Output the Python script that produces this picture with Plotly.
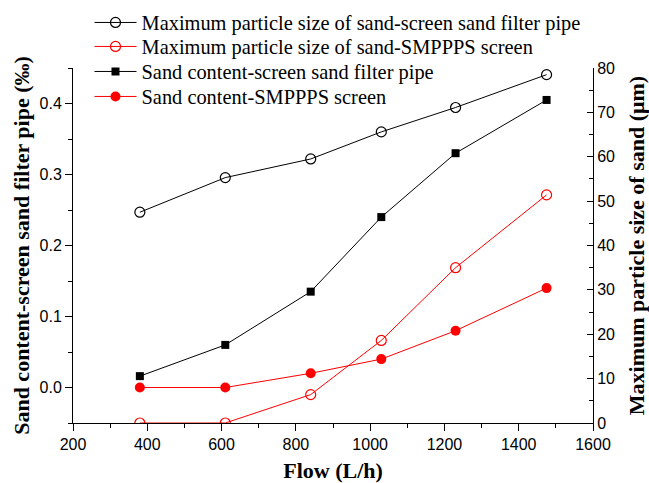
import plotly.graph_objects as go

flow = [380, 610, 840, 1030, 1230, 1475]
max_size_sand_screen = [47.5, 55.3, 59.5, 65.6, 71.1, 78.5]
max_size_smppps = [0, 0, 6.4, 18.6, 35.0, 51.4]
sand_content_screen = [0.016, 0.06, 0.135, 0.24, 0.33, 0.405]
sand_content_smppps = [0.0, 0.0, 0.02, 0.04, 0.08, 0.14]

names = [
    "Maximum particle size of sand-screen sand filter pipe",
    "Maximum particle size of sand-SMPPPS screen",
    "Sand content-screen sand filter pipe",
    "Sand content-SMPPPS screen",
]

fig = go.Figure()
fig.add_trace(go.Scatter(x=flow, y=max_size_sand_screen, name=names[0], yaxis="y2", legend="legend",
                         mode="lines+markers", line=dict(color="black", width=1),
                         marker=dict(symbol="circle-open", size=10, color="black", line=dict(width=1.2))))
fig.add_trace(go.Scatter(x=flow, y=max_size_smppps, name=names[1], yaxis="y2", legend="legend2",
                         mode="lines+markers", line=dict(color="#ff0000", width=1),
                         marker=dict(symbol="circle-open", size=10, color="#ff0000", line=dict(width=1.2))))
fig.add_trace(go.Scatter(x=flow, y=sand_content_screen, name=names[2], yaxis="y", legend="legend3",
                         mode="lines+markers", line=dict(color="black", width=1),
                         marker=dict(symbol="square", size=8, color="black")))
fig.add_trace(go.Scatter(x=flow, y=sand_content_smppps, name=names[3], yaxis="y", legend="legend4",
                         mode="lines+markers", line=dict(color="#ff0000", width=1),
                         marker=dict(symbol="circle", size=10, color="#ff0000")))

W, H = 649, 483
ML, MR, MT, MB = 73, 56, 4, 60
PLOT_TOP = 68
paper_h = H - MT - MB
dom_top = (H - MB - PLOT_TOP) / paper_h

tickfont = dict(family="Liberation Sans", size=16, color="black")
titlefont = dict(family="Liberation Serif", size=22, color="black", weight="bold")
legfont = dict(family="Liberation Serif", size=20.4, color="black")

def leg(ypx):
    return dict(x=(89.5 - ML) / (W - ML - MR), y=(H - MB - ypx) / paper_h,
                xanchor="left", yanchor="middle", font=legfont,
                bgcolor="rgba(0,0,0,0)", itemwidth=42, borderwidth=0)

fig.update_layout(
    width=W, height=H,
    margin=dict(l=ML, r=MR, t=MT, b=MB, autoexpand=False),
    paper_bgcolor="white", plot_bgcolor="white",
    showlegend=True,
    legend=leg(22.7), legend2=leg(46.7), legend3=leg(71.7), legend4=leg(96.7),
    xaxis=dict(range=[200, 1600], dtick=200, tick0=200, showgrid=False, zeroline=False,
               showline=True, linecolor="black", linewidth=1, automargin=True,
               layer="below traces",
               ticks="outside", ticklen=7, tickcolor="black",
               minor=dict(ticks="outside", dtick=100, ticklen=4, tickcolor="black"),
               tickfont=tickfont,
               title=dict(text="Flow (L/h)", font=titlefont, standoff=10)),
    yaxis=dict(range=[-0.05, 0.45], dtick=0.1, tick0=0, tickformat=".1f", domain=[0, dom_top],
               showgrid=False, zeroline=False, automargin=True,
               showline=True, linecolor="black", linewidth=1,
               ticks="outside", ticklen=7, tickcolor="black",
               minor=dict(ticks="outside", dtick=0.05, tick0=0, ticklen=4, tickcolor="black"),
               tickfont=tickfont,
               title=dict(text="Sand content-screen sand filter pipe (‰)", font=titlefont, standoff=3)),
    yaxis2=dict(range=[0, 80], dtick=10, tick0=0, overlaying="y", side="right", anchor="x",
                showgrid=False, zeroline=False, automargin=True,
                showline=True, linecolor="black", linewidth=1,
                ticks="inside", ticklen=6, tickcolor="black",
                minor=dict(ticks="inside", dtick=5, ticklen=4, tickcolor="black"),
                tickfont=tickfont,
                title=dict(text="Maximum particle size of sand (μm)", font=titlefont, standoff=16)),
)

fig.write_html("out.html", config={"displayModeBar": False},
               post_script="document.body.style.margin='0px';")
